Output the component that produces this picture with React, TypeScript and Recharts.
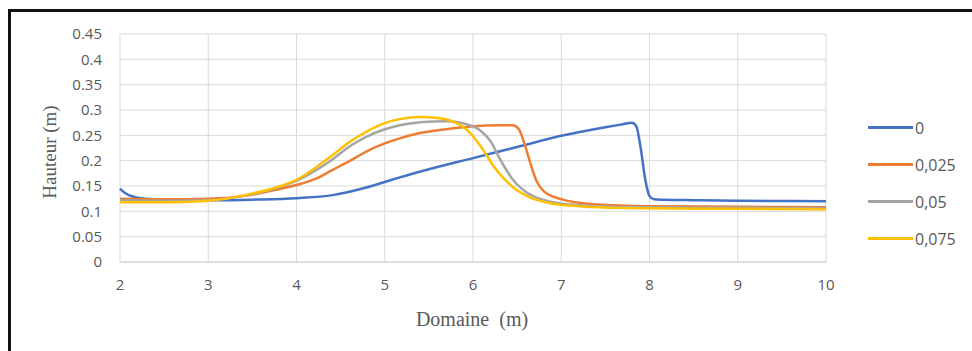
import { LineChart, Line, XAxis, YAxis, CartesianGrid } from 'recharts';

const xTicks = [2, 3, 4, 5, 6, 7, 8, 9, 10];
const yTicks = [0, 0.05, 0.1, 0.15, 0.2, 0.25, 0.3, 0.35, 0.4, 0.45];

const x0 = [2, 2.05, 2.1, 2.2, 2.4, 3, 3.5, 4, 4.41, 4.79, 5, 5.17, 5.5, 6, 6.5, 7, 7.5, 7.7, 7.8, 7.85, 7.9, 7.95, 8.0, 8.05, 8.15, 8.5, 9, 10];
const y0 = [0.145, 0.137, 0.132, 0.127, 0.124, 0.122, 0.123, 0.126, 0.132, 0.147, 0.158, 0.167, 0.183, 0.205, 0.227, 0.249, 0.266, 0.272, 0.275, 0.268, 0.225, 0.165, 0.13, 0.124, 0.123, 0.122, 0.121, 0.12];

const x025 = [2, 2.5, 3, 3.47, 3.75, 4, 4.23, 4.41, 4.6, 4.79, 5, 5.17, 5.36, 5.7, 6, 6.3, 6.45, 6.52, 6.58, 6.65, 6.72, 6.8, 7, 7.3, 7.6, 8, 9, 10];
const y025 = [0.125, 0.124, 0.125, 0.132, 0.142, 0.152, 0.165, 0.182, 0.199, 0.218, 0.234, 0.244, 0.253, 0.262, 0.268, 0.27, 0.27, 0.262, 0.235, 0.195, 0.16, 0.14, 0.124, 0.115, 0.112, 0.11, 0.109, 0.108];

const x05 = [2, 2.5, 3, 3.47, 3.75, 4, 4.23, 4.41, 4.6, 4.79, 5, 5.17, 5.4, 5.7, 6, 6.1, 6.2, 6.3, 6.45, 6.6, 6.85, 7.2, 7.6, 8, 9, 10];
const y05 = [0.122, 0.121, 0.122, 0.133, 0.145, 0.16, 0.182, 0.203, 0.228, 0.247, 0.262, 0.27, 0.276, 0.278, 0.268, 0.257, 0.238, 0.205, 0.163, 0.138, 0.12, 0.112, 0.109, 0.108, 0.107, 0.106];

const x075 = [2, 2.5, 3, 3.47, 3.75, 4, 4.23, 4.41, 4.6, 4.79, 5, 5.17, 5.4, 5.6, 5.8, 5.95, 6.1, 6.25, 6.45, 6.65, 6.85, 7.2, 7.6, 8, 9, 10];
const y075 = [0.118, 0.118, 0.121, 0.134, 0.146, 0.162, 0.188, 0.211, 0.237, 0.257, 0.274, 0.282, 0.286, 0.284, 0.275, 0.258, 0.225, 0.185, 0.148, 0.127, 0.117, 0.11, 0.107, 0.106, 0.105, 0.104];

const toPoints = (xs: number[], ys: number[]) => xs.map((x, i) => ({ x, y: ys[i] }));

const series = [
  { name: '0', color: '#4472C4', data: toPoints(x0, y0) },
  { name: '0,025', color: '#ED7D31', data: toPoints(x025, y025) },
  { name: '0,05', color: '#A5A5A5', data: toPoints(x05, y05) },
  { name: '0,075', color: '#FFC000', data: toPoints(x075, y075) },
];

const tickFont = { fontFamily: 'Open Sans, sans-serif', fontSize: 15, fill: '#595959' };

export default function App() {
  return (
    <div
      style={{
        position: 'fixed',
        left: 8,
        top: 9,
        width: 970,
        height: 360,
        borderTop: '3px solid #111',
        borderLeft: '3px solid #111',
        background: '#fff',
      }}
    >
      <div style={{ position: 'relative', width: 960, height: 340 }}>
        <LineChart width={960} height={340} margin={{ top: 22, right: 145, left: 0, bottom: 60 }}>
          <CartesianGrid stroke="#d9d9d9" strokeWidth={1} />
          <XAxis
            type="number"
            dataKey="x"
            domain={[2, 10]}
            ticks={xTicks}
            interval={0}
            allowDuplicatedCategory={false}
            height={30}
            tick={tickFont}
            tickLine={false}
            axisLine={{ stroke: '#d0d0d0' }}
            tickSize={0}
            tickMargin={17}
          />
          <YAxis
            type="number"
            domain={[0, 0.45]}
            ticks={yTicks}
            interval={0}
            width={109}
            tick={tickFont}
            tickLine={false}
            axisLine={false}
            tickSize={0}
            tickMargin={18}
          />
          {series.map((s) => (
            <Line
              key={s.name}
              data={s.data}
              dataKey="y"
              name={s.name}
              type="monotone"
              stroke={s.color}
              strokeWidth={2.5}
              dot={false}
              isAnimationActive={false}
            />
          ))}
        </LineChart>
        <div
          style={{
            position: 'absolute',
            left: 857,
            top: 97,
            fontFamily: 'Open Sans, sans-serif',
            fontSize: 16,
            color: '#595959',
          }}
        >
          {series.map((s) => (
            <div key={s.name} style={{ display: 'flex', alignItems: 'center', height: 37 }}>
              <span style={{ display: 'inline-block', width: 45, height: 3, background: s.color, marginRight: 2 }} />
              <span>{s.name}</span>
            </div>
          ))}
        </div>
        <div
          style={{
            position: 'absolute',
            left: 39,
            top: 140,
            transform: 'translate(-50%, -50%) rotate(-90deg)',
            fontFamily: 'Liberation Serif, serif',
            fontSize: 19,
            color: '#595959',
            whiteSpace: 'nowrap',
          }}
        >
          Hauteur (m)
        </div>
        <div
          style={{
            position: 'absolute',
            left: 461,
            top: 307,
            transform: 'translate(-50%, -50%)',
            fontFamily: 'Liberation Serif, serif',
            fontSize: 20,
            color: '#595959',
            whiteSpace: 'pre',
          }}
        >
          Domaine  (m)
        </div>
      </div>
    </div>
  );
}
